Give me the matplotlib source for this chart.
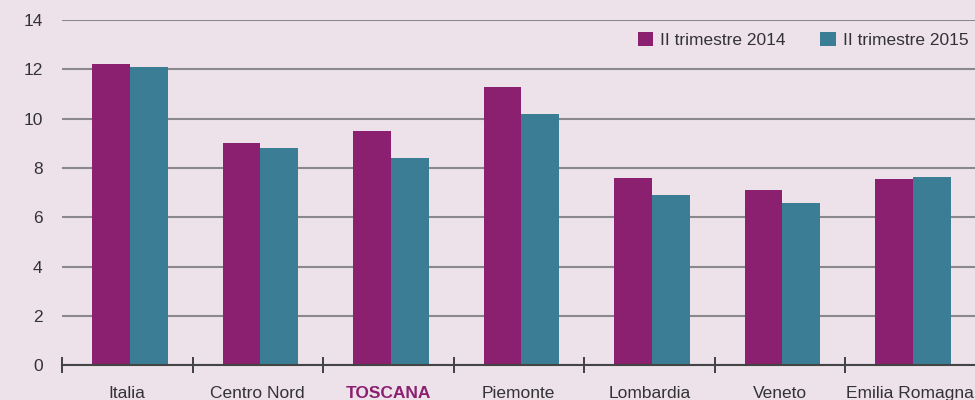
import matplotlib.pyplot as plt
import numpy as np

categories = ['Italia', 'Centro Nord', 'TOSCANA', 'Piemonte', 'Lombardia', 'Veneto', 'Emilia Romagna']
val_2014 = [12.2, 9.0, 9.5, 11.3, 7.6, 7.1, 7.55]
val_2015 = [12.1, 8.8, 8.4, 10.2, 6.9, 6.6, 7.63]
series_labels = ['II trimestre 2014', 'II trimestre 2015']

bg = '#ede2ea'
purple = '#8b2070'
teal = '#3a7d94'

plt.rcParams['font.family'] = ['Liberation Sans', 'DejaVu Sans']

fig = plt.figure(figsize=(9.75, 4), dpi=100, facecolor=bg)
ax = fig.add_axes([0.0636, 0.0868, 0.937, 0.8632], facecolor=bg)

x = np.arange(len(categories))
w = 0.29
ax.bar(x - w / 2 + 0.02, val_2014, width=w, color=purple, label=series_labels[0], zorder=3)
ax.bar(x + w / 2 + 0.02, val_2015, width=w, color=teal, label=series_labels[1], zorder=3)

ax.set_xlim(-0.5, len(categories) - 0.5)
ax.set_ylim(0, 14)
ax.set_yticks(range(0, 15, 2))
ax.yaxis.grid(True, color='#8a888c', linewidth=1.5, zorder=1)
ax.tick_params(axis='y', length=0, pad=14, labelsize=12.5, colors='#333333')

ax.set_xticks(x)
ax.set_xticklabels(categories, fontsize=12.5, color='#333333')
ax.tick_params(axis='x', length=0, pad=15)
ax.set_xticks(np.arange(-0.5, len(categories), 1), minor=True)
ax.tick_params(axis='x', which='minor', direction='inout', length=12, width=1.3, color='#333333')
lbl = ax.get_xticklabels()[2]
lbl.set_color(purple)
lbl.set_fontweight('bold')

for s in ['top', 'right', 'left']:
    ax.spines[s].set_visible(False)
ax.spines['bottom'].set_color('#444444')
ax.spines['bottom'].set_linewidth(1.5)
ax.spines['bottom'].set_zorder(4)

ax.legend(loc='center right', bbox_to_anchor=(1.0, 0.942), ncol=2, frameon=False,
          fontsize=12.5, handlelength=0.9, handleheight=0.9, handletextpad=0.4,
          columnspacing=2.0, labelcolor='#333333', borderaxespad=0)

fig.savefig('out.png', dpi=100, facecolor=bg)
